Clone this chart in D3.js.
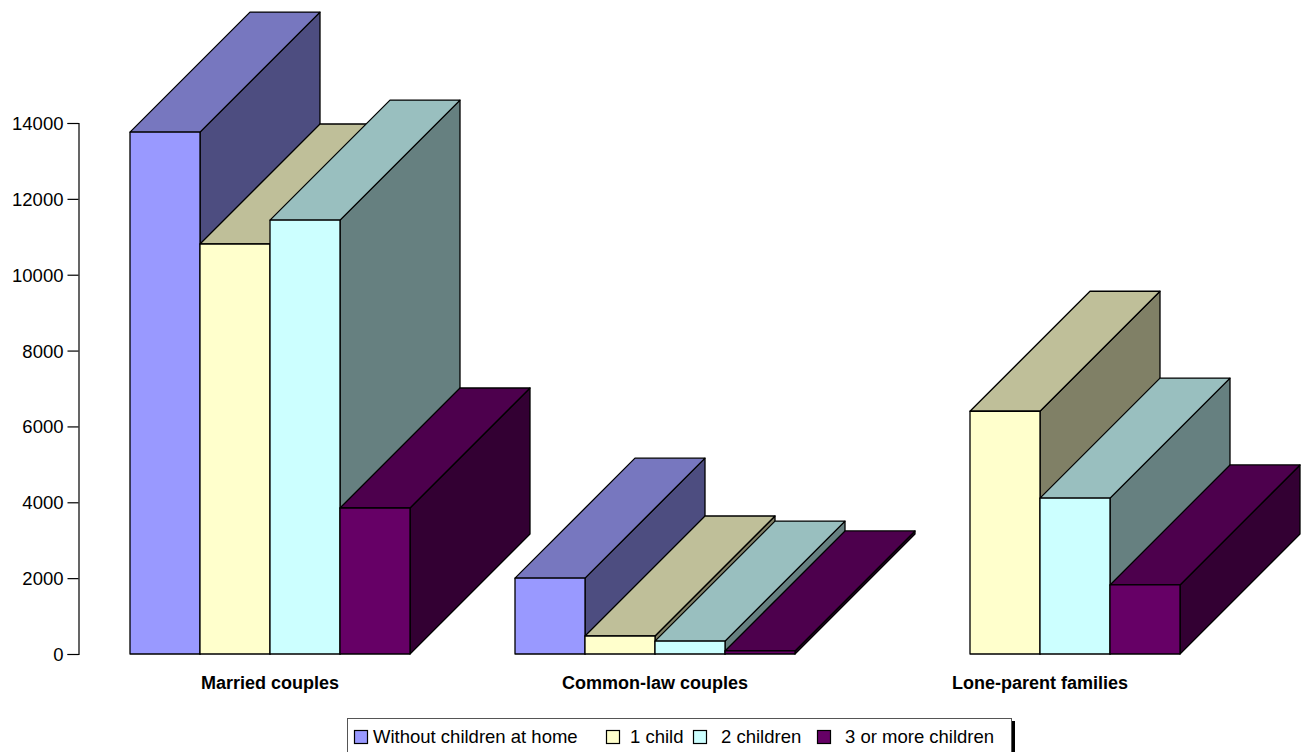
<!DOCTYPE html>
<html>
<head>
<meta charset="utf-8">
<script src="https://cdnjs.cloudflare.com/ajax/libs/d3/7.8.5/d3.min.js"></script>
<style>
html, body { margin: 0; padding: 0; background: #fff; }
svg { display: block; }
text { font-family: "Liberation Sans", Arial, sans-serif; fill: #000; }
</style>
</head>
<body>
<svg id="chart" width="1301" height="752"></svg>
<script>
var categories = ["Married couples", "Common-law couples", "Lone-parent families"];
var seriesNames = ["Without children at home", "1 child", "2 children", "3 or more children"];
var withoutChildren = [13760, 2000, 0];
var oneChild = [10810, 475, 6400];
var twoChildren = [11440, 340, 4110];
var threeOrMore = [3850, 80, 1820];
var tickValues = [0, 2000, 4000, 6000, 8000, 10000, 12000, 14000];
var frontColors = ["#9999ff", "#ffffcc", "#ccffff", "#660066"];
var topColors = ["#7777bf", "#bfbf99", "#99bfbf", "#4d004d"];
var sideColors = ["#4d4d80", "#808066", "#668080", "#330033"];

var seriesValues = [withoutChildren, oneChild, twoChildren, threeOrMore];
var depth = 120;

var svg = d3.select("#chart");

var y = d3.scaleLinear().domain([0, 14000]).range([654, 123]);
var x0 = d3.scaleBand().domain(categories).range([77.5, 1232.5]).paddingInner(105 / 385).paddingOuter(52.5 / 385);
var x1 = d3.scaleBand().domain(seriesNames).range([0, x0.bandwidth()]);

// y axis
var axis = svg.append("g")
    .attr("transform", "translate(78.5,0)")
    .call(d3.axisLeft(y).tickValues(tickValues).tickSize(11).tickPadding(4).tickFormat(d3.format("d")));
axis.select(".domain").attr("stroke", "#000").attr("stroke-width", 1.2);
axis.selectAll(".tick line").attr("stroke", "#000").attr("stroke-width", 1.2);
axis.selectAll("text").style("font-size", "18.5px").attr("dy", "0.35em");

// flatten to bars, painted left to right so later bars cover earlier sides
var bars = [];
categories.forEach(function (cat, c) {
    seriesNames.forEach(function (name, s) {
        var value = seriesValues[s][c];
        if (value > 0) {
            bars.push({ cat: cat, name: name, s: s, value: value });
        }
    });
});

var bar = svg.append("g").selectAll("g")
    .data(bars)
    .enter()
    .append("g")
    .attr("stroke", "#000")
    .attr("stroke-width", 1.3)
    .attr("stroke-linejoin", "round");

function pts(list) {
    return list.map(function (p) { return p.join(","); }).join(" ");
}

bar.append("polygon")
    .attr("fill", function (d) { return sideColors[d.s]; })
    .attr("points", function (d) {
        var r = x0(d.cat) + x1(d.name) + x1.bandwidth();
        return pts([[r, y(d.value)], [r + depth, y(d.value) - depth], [r + depth, y(0) - depth], [r, y(0)]]);
    });

bar.append("polygon")
    .attr("fill", function (d) { return topColors[d.s]; })
    .attr("points", function (d) {
        var l = x0(d.cat) + x1(d.name), r = l + x1.bandwidth(), t = y(d.value);
        return pts([[l, t], [l + depth, t - depth], [r + depth, t - depth], [r, t]]);
    });

bar.append("rect")
    .attr("fill", function (d) { return frontColors[d.s]; })
    .attr("x", function (d) { return x0(d.cat) + x1(d.name); })
    .attr("y", function (d) { return y(d.value); })
    .attr("width", x1.bandwidth())
    .attr("height", function (d) { return y(0) - y(d.value); });

// category labels
svg.append("g").selectAll("text")
    .data(categories)
    .enter()
    .append("text")
    .attr("x", function (d) { return x0(d) + x0.bandwidth() / 2; })
    .attr("y", 689)
    .attr("text-anchor", "middle")
    .style("font-size", "18px")
    .style("font-weight", "bold")
    .text(function (d) { return d; });

// legend
var legend = svg.append("g");
legend.append("rect").attr("x", 1012).attr("y", 721).attr("width", 3).attr("height", 31).attr("fill", "#000");
legend.append("rect").attr("x", 347.5).attr("y", 718.5).attr("width", 664).attr("height", 36)
    .attr("fill", "#fff").attr("stroke", "#555").attr("stroke-width", 1);

var swatchX = [354, 606, 693, 817];
var labelX = [373, 630, 721, 845];
var item = legend.selectAll(".item")
    .data(seriesNames)
    .enter()
    .append("g")
    .attr("class", "item");
item.append("rect")
    .attr("x", function (d, i) { return swatchX[i] + 0.5; })
    .attr("y", 730.5)
    .attr("width", 13)
    .attr("height", 13)
    .attr("fill", function (d, i) { return frontColors[i]; })
    .attr("stroke", "#000")
    .attr("stroke-width", 1.2);
item.append("text")
    .attr("x", function (d, i) { return labelX[i]; })
    .attr("y", 743)
    .style("font-size", "18.5px")
    .text(function (d) { return d; });
</script>
</body>
</html>
